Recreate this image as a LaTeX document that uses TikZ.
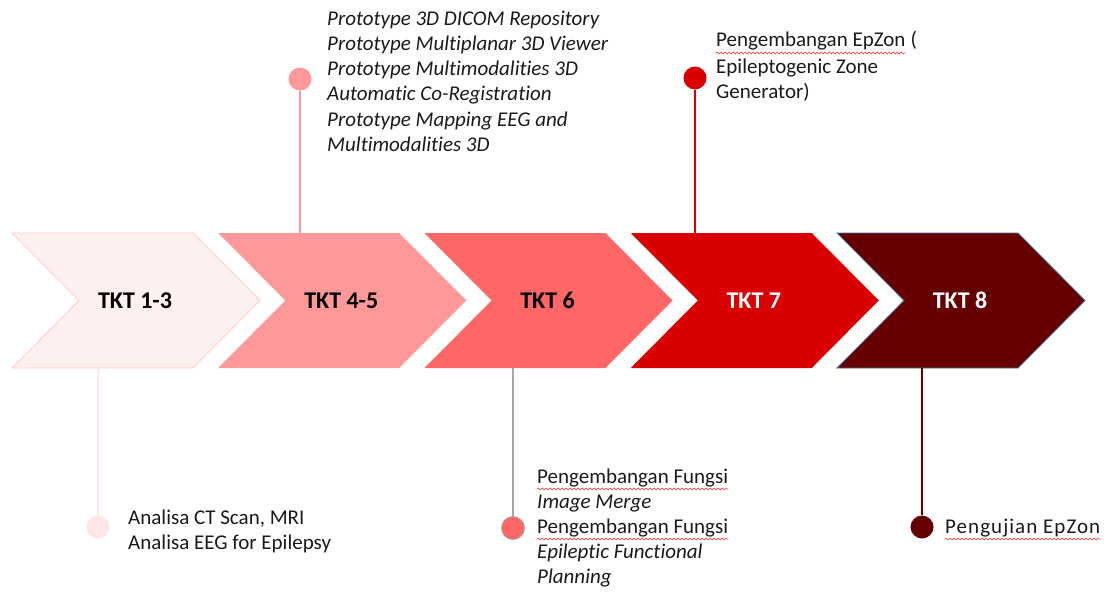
\documentclass[tikz,border=0pt]{standalone}
\usepackage{fontspec}
\setmainfont{Carlito}[Ligatures={NoCommon,NoContextual}, RawFeature=-calt]
\usetikzlibrary{decorations.pathmorphing}
\definecolor{fillA}{HTML}{FFF0F0}
\definecolor{lineA}{HTML}{FFCCCC}
\definecolor{stemA}{HTML}{FCE6E6}
\definecolor{fillB}{HTML}{FF9999}
\definecolor{fillC}{HTML}{FF6666}
\definecolor{stemC}{HTML}{A6A6A6}
\definecolor{fillD}{HTML}{DA0000}
\definecolor{fillE}{HTML}{660000}
\definecolor{lineE}{HTML}{41719C}
\definecolor{txtgray}{HTML}{1A1A1A}
\newcommand\bodyfont{\fontsize{21}{25.2}\selectfont}
\newcommand\tktfont{\fontsize{24}{28}\selectfont\bfseries}
\begin{document}
\begin{tikzpicture}[x=1pt,y=-1pt,
  chev/.style={line width=0.8pt},
  tkt/.style={font=\tktfont, inner sep=0},
  dot/.style={circle, inner sep=0, minimum size=23pt},
  stem/.style={line width=1.6pt},
  txtline/.style={anchor=base west, inner sep=0, font=\bodyfont, text=txtgray},
  txtblock/.style={anchor=north west, inner sep=0, font=\bodyfont, align=left, text=txtgray},
  wave/.style={draw=red!85, line width=0.5pt, decorate, decoration={snake, amplitude=1pt, segment length=4pt}}]
\useasboundingbox (0,0) rectangle (1115,594);
% chevrons
\draw[chev, fill=fillA, draw=lineA] (12,233) -- ++(181,0) -- ++(67,67.5) -- ++(-67,67.5) -- ++(-181,0) -- ++(67,-67.5) -- cycle;
\fill[fillB] (218.25,233) -- ++(181,0) -- ++(67,67.5) -- ++(-67,67.5) -- ++(-181,0) -- ++(67,-67.5) -- cycle;
\fill[fillC] (424.5,233) -- ++(181,0) -- ++(67,67.5) -- ++(-67,67.5) -- ++(-181,0) -- ++(67,-67.5) -- cycle;
\fill[fillD] (630.75,233) -- ++(181,0) -- ++(67,67.5) -- ++(-67,67.5) -- ++(-181,0) -- ++(67,-67.5) -- cycle;
\draw[chev, fill=fillE, draw=lineE] (837,233) -- ++(181,0) -- ++(67,67.5) -- ++(-67,67.5) -- ++(-181,0) -- ++(67,-67.5) -- cycle;
% labels
\node[tkt] (t1) at (135,300.5) {TKT 1-3};
\node[tkt] (t2) at (341.25,300.5) {TKT 4-5};
\node[tkt] (t3) at (547.5,300.5) {TKT 6};
\node[tkt, text=white] (t4) at (753.75,300.5) {TKT 7};
\node[tkt, text=white] (t5) at (960,300.5) {TKT 8};
% stem anchors on chevron edges
\coordinate (s1) at (98,368);
\coordinate (s2) at (300,233);
\coordinate (s3) at (513,368);
\coordinate (s4) at (695,233);
\coordinate (s5) at (922,368);
% dots
\node[dot, fill=stemA] (d1) at (98,527) {};
\node[dot, fill=fillB] (d2) at (300,79) {};
\node[dot, fill=fillC, draw=stemC, line width=0.8pt] (d3) at (513,528) {};
\node[dot, fill=fillD] (d4) at (695,78) {};
\node[dot, fill=fillE] (d5) at (922,527) {};
% stems
\draw[stem, stemA] (s1) -- (d1);
\draw[stem, fillB] (s2) -- (d2);
\draw[stem, stemC] (s3) -- (d3);
\draw[stem, fillD] (s4) -- (d4);
\draw[stem, fillE] (s5) -- (d5);
% texts
\node[txtblock] (b2) at (327,25-17.64) {\strut\itshape Prototype 3D DICOM Repository\\\itshape Prototype Multiplanar 3D Viewer\\\itshape Prototype Multimodalities 3D\\\itshape Automatic Co-Registration\\\itshape Prototype Mapping EEG and\\\itshape Multimodalities 3D};
\node[txtline] (b4a) at (716,47) {Pengembangan EpZon};
\node[txtline] (b4p) at ([xshift=4.7pt]b4a.base east) {(};
\node[txtblock] (b4b) at (716,73-17.64) {\strut Epileptogenic Zone\\Generator)};
\node[txtblock] (b1) at (128,524-17.64) {\strut Analisa CT Scan, MRI\\Analisa EEG for Epilepsy};
\node[txtline] (b3a) at (537,483) {Pengembangan Fungsi};
\node[txtline] (b3b) at (537,508) {\itshape Image Merge};
\node[txtline] (b3c) at (537,533) {Pengembangan Fungsi};
\node[txtblock] (b3d) at (537,558-17.64) {\strut\itshape Epileptic Functional\\\itshape Planning};
\node[txtline] (b5) at (945,533) {\addfontfeature{LetterSpace=5}Pengujian EpZon};
% spell-check squiggles
\draw[wave] ([yshift=-6pt]b4a.base west) -- ([yshift=-6pt]b4a.base east);
\draw[wave] ([yshift=-6pt]b3a.base west) -- ([yshift=-6pt]b3a.base east);
\draw[wave] ([yshift=-6pt]b3c.base west) -- ([yshift=-6pt]b3c.base east);
\draw[wave] ([yshift=-6pt]b5.base west) -- ([yshift=-6pt]b5.base east);
\end{tikzpicture}
\end{document}
